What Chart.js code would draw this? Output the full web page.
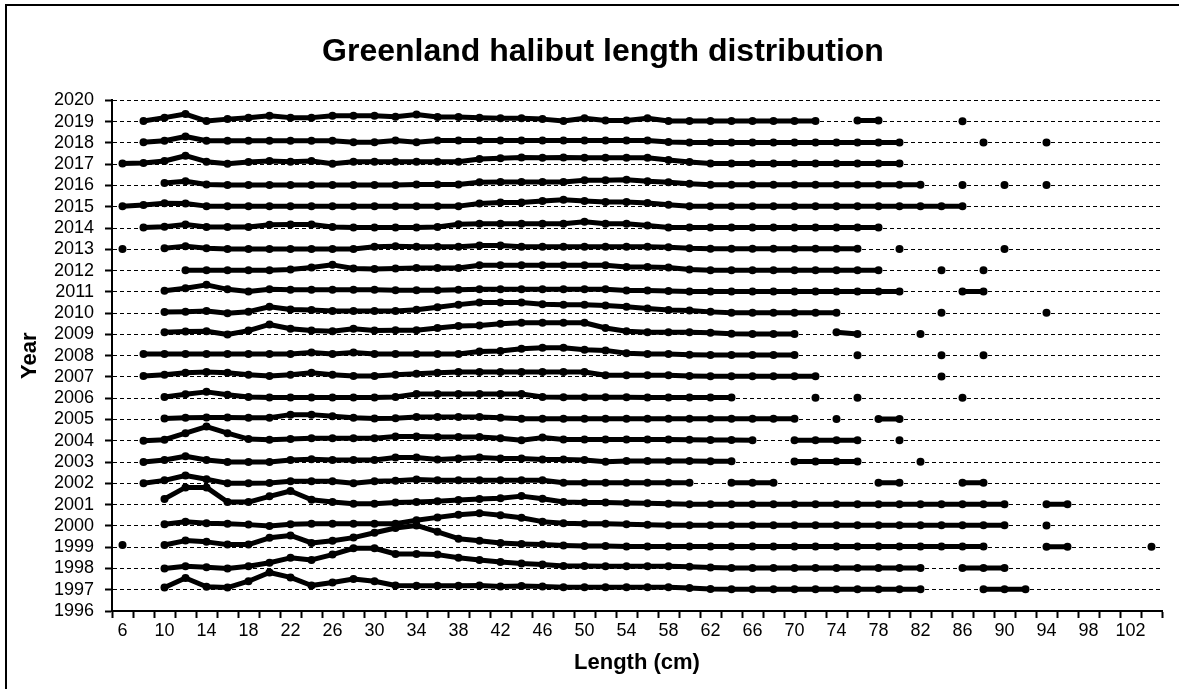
<!DOCTYPE html>
<html><head><meta charset="utf-8">
<script src="https://cdn.jsdelivr.net/npm/chart.js@4"></script>
<style>html,body{margin:0;padding:0;background:#fff;}canvas{display:block;}</style>
</head><body>
<canvas id="c" width="1179" height="689"></canvas>
<script>
const _ = null;
// Length categories (cm)
const lengths = [6,8,10,12,14,16,18,20,22,24,26,28,30,32,34,36,38,40,42,44,46,48,50,52,54,56,58,60,62,64,66,68,70,72,74,76,78,80,82,84,86,88,90,92,94,96,98,100,102,104];
// Years shown on the y axis
const yearTicks = [1996,1997,1998,1999,2000,2001,2002,2003,2004,2005,2006,2007,2008,2009,2010,2011,2012,2013,2014,2015,2016,2017,2018,2019,2020];
const years = [1997,1998,1999,2000,2001,2002,2003,2004,2005,2006,2007,2008,2009,2010,2011,2012,2013,2014,2015,2016,2017,2018,2019];
// Relative frequency per length class (offset above the year baseline)
const f2019 = [_,.03,.19,.36,.03,.12,.19,.28,.19,.19, .28,.28,.28,.23,.34,.22,.22,.19,.16,.16, .12,.03,.16,.06,.06,.16,.03,.03,.03,.03, .03,.03,.03,.03,_,.05,.05,_,_,_, .02,_,_,_,_,_,_,_,_,_];
const f2018 = [_,.03,.1,.3,.1,.1,.1,.1,.1,.1, .1,.03,.03,.12,.03,.12,.12,.12,.12,.12, .12,.12,.12,.12,.12,.12,.05,.02,.02,.02, .02,.02,.02,.02,.02,.02,.02,.02,_,_, _,.02,_,_,.02,_,_,_,_,_];
const f2017 = [.03,.06,.15,.4,.12,.02,.1,.15,.12,.15, .02,.12,.12,.12,.12,.12,.12,.25,.28,.32, .3,.32,.3,.3,.3,.3,.2,.1,.03,.03, .03,.03,.03,.03,.03,.03,.03,.03,_,_, _,_,_,_,_,_,_,_,_,_];
const f2016 = [_,_,.12,.2,.05,.02,.02,.02,.02,.02, .02,.02,.02,.02,.05,.05,.05,.15,.17,.17, .17,.17,.25,.25,.27,.2,.15,.08,.03,.03, .03,.03,.03,.03,.03,.03,.03,.03,.03,_, .02,_,.02,_,.02,_,_,_,_,_];
const f2015 = [.03,.08,.17,.15,.03,.02,.02,.02,.02,.02, .02,.02,.02,.02,.02,.02,.03,.15,.2,.2, .27,.33,.27,.23,.23,.18,.1,.02,.02,.02, .02,.02,.02,.02,.02,.02,.02,.02,.02,.02, .02,_,_,_,_,_,_,_,_,_];
const f2014 = [_,.03,.06,.17,.05,.05,.05,.15,.17,.17, .05,.03,.03,.03,.03,.05,.18,.2,.2,.2, .2,.2,.3,.2,.2,.12,.03,.03,.03,.03, .03,.03,.03,.03,.03,.03,.03,_,_,_, _,_,_,_,_,_,_,_,_,_];
const f2013 = [.02,_,.05,.15,.05,.02,.02,.02,.02,.02, .02,.02,.12,.15,.12,.12,.12,.18,.18,.12, .12,.12,.12,.12,.12,.12,.1,.05,.03,.03, .03,.03,.03,.03,.03,.03,_,.02,_,_, _,_,.02,_,_,_,_,_,_,_];
const f2012 = [_,_,_,.02,.02,.02,.02,.02,.05,.15, .27,.1,.08,.1,.12,.12,.12,.25,.25,.25, .25,.25,.25,.25,.17,.17,.15,.05,.02,.02, .02,.02,.02,.02,.02,.02,.02,_,_,.02, _,.02,_,_,_,_,_,_,_,_];
const f2011 = [_,_,.05,.17,.33,.12,.02,.12,.1,.1, .1,.1,.1,.08,.08,.08,.1,.12,.12,.12, .12,.12,.12,.12,.06,.06,.04,.02,.02,.02, .02,.02,.02,.02,.02,.02,.02,.02,_,_, .02,.02,_,_,_,_,_,_,_,_];
const f2010 = [_,_,.05,.07,.1,0,.07,.3,.17,.15, .1,.1,.1,.1,.16,.28,.4,.5,.5,.5, .42,.4,.4,.36,.3,.22,.15,.12,.06,.02, .02,.02,.02,.02,.02,_,_,_,_,.02, _,_,_,_,.02,_,_,_,_,_];
const f2009 = [_,_,.1,.14,.15,0,.18,.47,.27,.18, .15,.27,.18,.2,.2,.3,.4,.42,.5,.55, .55,.55,.55,.3,.15,.1,.1,.1,.08,.03, .02,.02,.02,_,.1,.02,_,_,.02,_, _,_,_,_,_,_,_,_,_,_];
const f2008 = [_,.08,.08,.08,.08,.08,.08,.08,.08,.15, .08,.15,.08,.08,.08,.08,.08,.2,.22,.33, .37,.37,.28,.25,.12,.08,.08,.05,.03,.03, .03,.03,.03,_,_,.02,_,_,_,.02, _,.02,_,_,_,_,_,_,_,_];
const f2007 = [_,.05,.1,.2,.23,.2,.1,.05,.1,.2, .1,.05,.05,.1,.15,.2,.23,.23,.23,.23, .23,.23,.23,.08,.08,.08,.08,.05,.03,.03, .03,.03,.03,.03,_,_,_,_,_,.02, _,_,_,_,_,_,_,_,_,_];
const f2006 = [_,_,.06,.19,.3,.16,.06,.03,.03,.03, .03,.03,.03,.06,.2,.2,.2,.2,.2,.2, .06,.05,.05,.05,.05,.04,.04,.03,.03,.03, _,_,_,.02,_,.02,_,_,_,_, .02,_,_,_,_,_,_,_,_,_];
const f2005 = [_,_,.05,.08,.1,.1,.08,.08,.23,.23, .15,.08,.05,.06,.12,.12,.12,.12,.08,.04, .04,.04,.04,.04,.04,.04,.04,.04,.04,.04, .04,.04,.04,_,.02,_,.02,.02,_,_, _,_,_,_,_,_,_,_,_,_];
const f2004 = [_,0,.05,.36,.67,.36,.08,.05,.08,.12, .12,.12,.12,.2,.2,.18,.18,.18,.12,.03, .15,.06,.06,.06,.06,.06,.06,.05,.04,.04, .03,_,.03,.03,.03,.03,_,.02,_,_, _,_,_,_,_,_,_,_,_,_];
const f2003 = [_,0,.1,.27,.1,0,0,0,.1,.13, .1,.1,.1,.22,.22,.12,.17,.22,.17,.17, .12,.12,.1,.02,.05,.05,.05,.05,.04,.04, _,_,.03,.03,.03,.03,_,_,.02,_, _,_,_,_,_,_,_,_,_,_];
const f2002 = [_,0,.14,.37,.19,0,0,.02,.1,.1, .1,0,.1,.12,.18,.15,.15,.15,.15,.15, .15,.03,.03,.03,.03,.03,.03,.03,_,.03, .03,.03,_,_,_,_,.03,.03,_,_, .03,.03,_,_,_,_,_,_,_,_];
const f2001 = [_,_,.27,.81,.81,.12,.12,.39,.64,.23, .12,.04,.04,.1,.12,.16,.22,.26,.3,.4, .28,.12,.1,.1,.08,.06,.04,.02,.02,.02, .02,.02,.02,.02,.02,.02,.02,.02,.02,.02, .02,.02,.02,_,.02,.02,_,_,_,_];
const f2000 = [_,_,.08,.2,.12,.1,.06,0,.08,.1, .1,.1,.1,.1,.27,.4,.52,.6,.5,.38, .2,.12,.1,.1,.08,.05,.03,.03,.03,.03, .03,.03,.03,.03,.03,.03,.03,.03,.03,.03, .03,.03,.03,_,.02,_,_,_,_,_];
const f1999 = [.1,_,.1,.31,.25,.12,.12,.44,.55,.2, .3,.45,.68,.9,1.02,.72,.4,.3,.2,.15, .12,.08,.06,.05,.03,.03,.03,.03,.03,.03, .03,.03,.03,.03,.03,.03,.03,.03,.03,.03, .03,.03,_,_,.02,.02,_,_,_,.02];
const f1998 = [_,_,0,.1,.06,0,.1,.27,.5,.4, .65,.95,.95,.68,.68,.65,.5,.4,.3,.23, .19,.12,.12,.1,.1,.1,.1,.08,.04,.02, .02,.02,.02,.02,.02,.02,.02,.02,.02,_, .02,.02,.02,_,_,_,_,_,_,_];
const f1997 = [_,_,.1,.55,.14,.1,.4,.81,.58,.2, .34,.5,.4,.2,.19,.19,.19,.2,.15,.18, .15,.12,.12,.12,.12,.12,.12,.08,.03,.02, .02,.02,.02,.02,.02,.02,.02,.02,.02,_, _,.02,.02,.02,_,_,_,_,_,_];

const series = [f1997,f1998,f1999,f2000,f2001,f2002,f2003,f2004,f2005,f2006,f2007,f2008,f2009,f2010,f2011,f2012,f2013,f2014,f2015,f2016,f2017,f2018,f2019];

const FONT = "'Liberation Sans', Arial, sans-serif";

const datasets = years.map((yr, k) => ({
  label: String(yr),
  data: series[k].map(v => v === null ? null : yr + v),
  borderColor: '#000',
  backgroundColor: '#000',
  borderWidth: 5,
  borderCapStyle: 'round',
  borderJoinStyle: 'round',
  tension: 0,
  spanGaps: false,
  pointRadius: 4,
  pointHoverRadius: 4,
  pointBorderWidth: 0,
  pointBackgroundColor: '#000'
}));

const framePlugin = {
  id: 'frame',
  beforeDraw(chart) {
    const ctx = chart.ctx;
    ctx.save();
    ctx.fillStyle = '#fff';
    ctx.fillRect(0, 0, chart.width, chart.height);
    ctx.strokeStyle = '#000';
    ctx.lineWidth = 2;
    ctx.beginPath();
    ctx.moveTo(6, chart.height + 2);
    ctx.lineTo(6, 5);
    ctx.lineTo(chart.width + 2, 5);
    ctx.stroke();
    ctx.restore();
  }
};

new Chart(document.getElementById('c'), {
  type: 'line',
  data: { labels: lengths.map(String), datasets },
  plugins: [framePlugin],
  options: {
    responsive: false,
    animation: false,
    devicePixelRatio: 1,
    layout: { padding: { left: 44, right: 17, top: 0, bottom: 0 } },
    plugins: {
      legend: { display: false },
      tooltip: { enabled: false },
      title: {
        display: true,
        text: 'Greenland halibut length distribution',
        color: '#000',
        font: { family: FONT, size: 32, weight: 'bold', lineHeight: 1.2 },
        padding: { top: 33, bottom: 29 }
      }
    },
    scales: {
      x: {
        type: 'category',
        offset: true,
        afterFit: s => { s.height = 78; },
        grid: { offset: true, drawOnChartArea: false, drawTicks: true, tickLength: 7, tickWidth: 2, color: '#000', tickBorderDash: [] },
        border: { display: true, color: '#000', width: 2 },
        ticks: {
          autoSkip: false, maxRotation: 0, minRotation: 0, padding: 2, color: '#000',
          font: { family: FONT, size: 18 },
          callback: (v, i) => (i % 2 === 0 ? String(lengths[i]) : '')
        },
        title: {
          display: true, text: 'Length (cm)', color: '#000',
          font: { family: FONT, size: 22, weight: 'bold', lineHeight: 1.2 },
          padding: { top: 0, bottom: 13 }
        }
      },
      y: {
        type: 'linear',
        min: yearTicks[0],
        max: yearTicks[yearTicks.length - 1],
        afterFit: s => { s.width = 68; },
        afterBuildTicks: s => { s.ticks = yearTicks.map(v => ({ value: v })); },
        grid: { drawOnChartArea: true, drawTicks: true, tickLength: 7, tickWidth: 2, lineWidth: 1, color: '#000', tickBorderDash: [] },
        border: { display: true, color: '#000', width: 2, dash: [4, 3] },
        ticks: {
          stepSize: 1, autoSkip: false, padding: 11, color: '#000',
          font: { family: FONT, size: 18 },
          callback: v => String(v)
        },
        title: {
          display: true, text: 'Year', color: '#000',
          font: { family: FONT, size: 22, weight: 'bold', lineHeight: 1.2 },
          padding: { top: -27, bottom: 0 }
        }
      }
    }
  }
});
</script>
</body></html>
